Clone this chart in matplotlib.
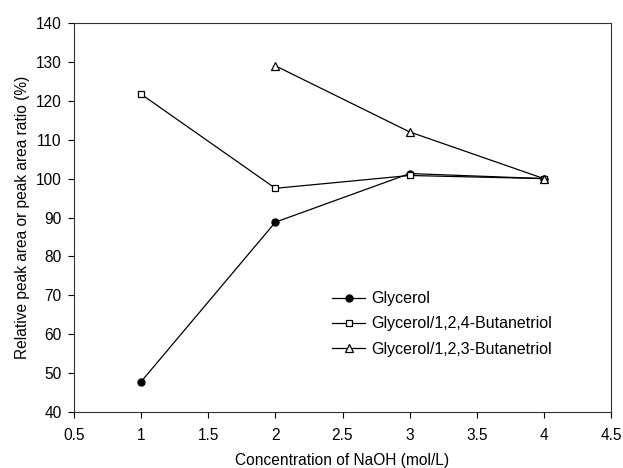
import matplotlib
matplotlib.use("Agg")
import matplotlib.pyplot as plt

plt.rcParams['font.family'] = ['Liberation Sans', 'DejaVu Sans']

conc_gly = [1, 2, 3, 4]
glycerol = [47.8, 88.8, 101.3, 100.0]
conc_124 = [1, 2, 3, 4]
ratio_124 = [121.7, 97.5, 100.8, 100.0]
conc_123 = [2, 3, 4]
ratio_123 = [129.0, 112.0, 100.0]

labels = ["Glycerol", "Glycerol/1,2,4-Butanetriol", "Glycerol/1,2,3-Butanetriol"]
xticks = [0.5, 1, 1.5, 2, 2.5, 3, 3.5, 4, 4.5]
xticklabels = ["0.5", "1", "1.5", "2", "2.5", "3", "3.5", "4", "4.5"]
yticks = [40, 50, 60, 70, 80, 90, 100, 110, 120, 130, 140]

fig = plt.figure(figsize=(6.23, 4.68), dpi=100)
ax = fig.add_axes([74/623, 1-412/468, (611-74)/623, (412-23)/468])

lw = 0.9
ax.plot(conc_gly, glycerol, color='black', lw=lw, marker='o', markersize=5,
        markerfacecolor='black', markeredgecolor='black', label=labels[0])
ax.plot(conc_124, ratio_124, color='black', lw=lw, marker='s', markersize=5,
        markerfacecolor='white', markeredgecolor='black', markeredgewidth=0.9, label=labels[1])
ax.plot(conc_123, ratio_123, color='black', lw=lw, marker='^', markersize=6,
        markerfacecolor='white', markeredgecolor='black', markeredgewidth=0.9, label=labels[2])

ax.set_xlim(0.5, 4.5)
ax.set_ylim(40, 140)
ax.set_xticks(xticks)
ax.set_xticklabels(xticklabels)
ax.set_yticks(yticks)
ax.tick_params(direction='out', length=4, width=0.8, labelsize=11.2, colors='black')
ax.tick_params(axis='x', pad=7.5)
ax.tick_params(axis='y', pad=5)
for s in ax.spines.values():
    s.set_linewidth(0.8)
    s.set_color('#333333')

ax.set_xlabel("Concentration of NaOH (mol/L)", fontsize=11.2, labelpad=7)
ax.set_ylabel("Relative peak area or peak area ratio (%)", fontsize=11.2, labelpad=4)

leg = ax.legend(loc='upper left', bbox_to_anchor=(0.48, 0.31), frameon=False,
                fontsize=11.5, handlelength=2.1, handletextpad=0.35,
                labelspacing=0.63, borderpad=0, borderaxespad=0, markerscale=1.0)

fig.savefig("out.png", dpi=100)
